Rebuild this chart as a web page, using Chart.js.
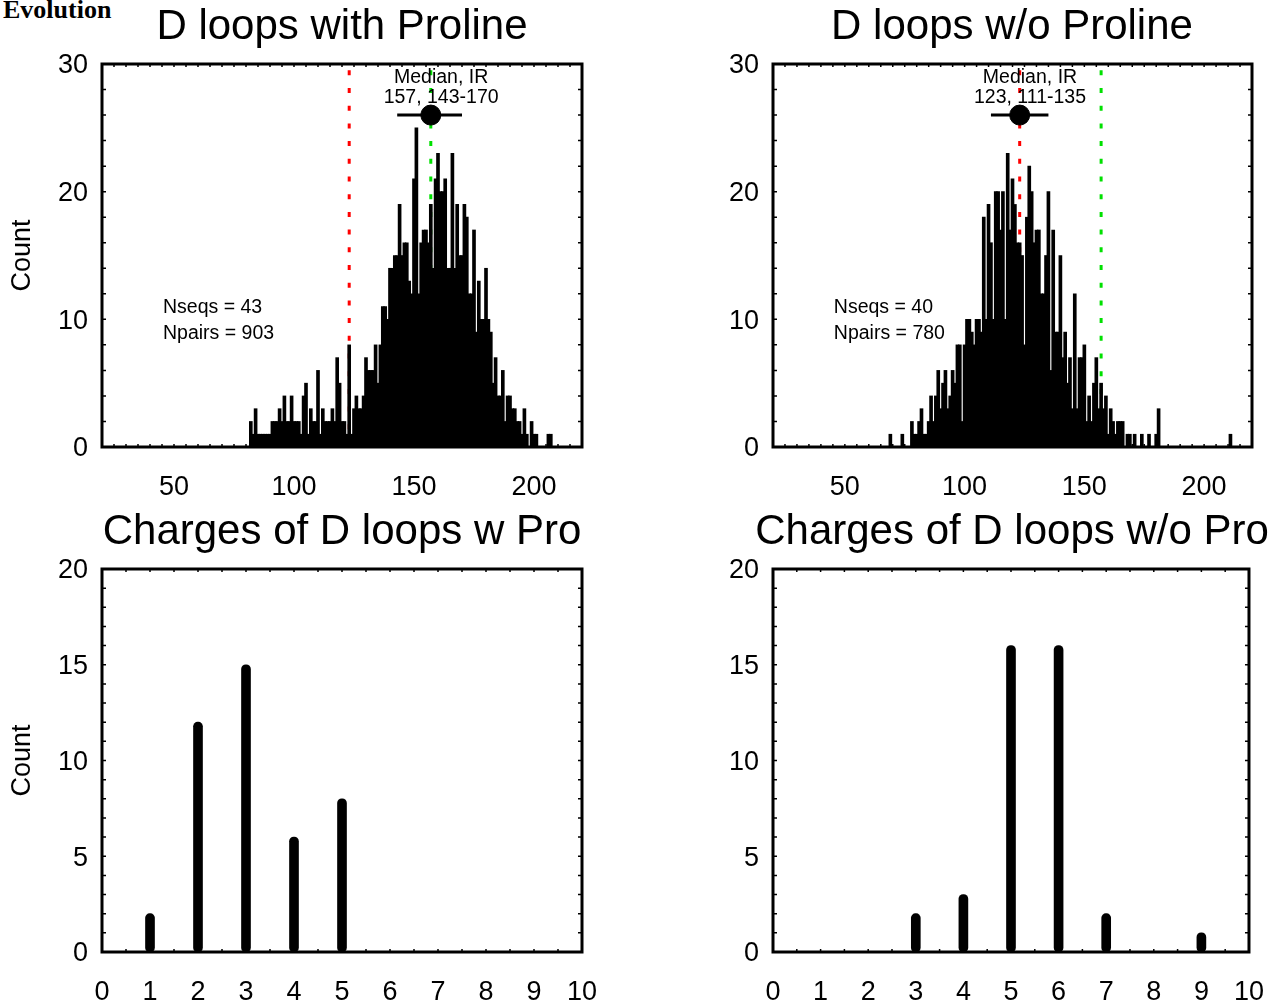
<!DOCTYPE html>
<html>
<head>
<meta charset="utf-8">
<script src="https://cdn.jsdelivr.net/npm/chart.js@4.4.1/dist/chart.umd.min.js"></script>
<style>
  body { margin: 0; background: #fff; width: 1288px; height: 1008px; position: relative; overflow: hidden; }
  .panel { position: absolute; }
  .ptitle { position: absolute; transform: translateX(-50%); white-space: nowrap; color: #000;
    font: 42px/42px "Liberation Sans", Arial, sans-serif; }
  #evo { position: absolute; left: 3px; top: -5px; font: bold 26px "Liberation Serif", "Times New Roman", serif; color: #000; }
</style>
</head>
<body>
<div id="evo">Evolution</div>
<div class="panel" style="left:0;top:0;width:644px;height:510px"><canvas id="lenWithPro"></canvas></div>
<div class="panel" style="left:644px;top:0;width:644px;height:510px"><canvas id="lenWithoutPro"></canvas></div>
<div class="panel" style="left:0;top:505px;width:644px;height:503px"><canvas id="chgWithPro"></canvas></div>
<div class="panel" style="left:644px;top:505px;width:644px;height:503px"><canvas id="chgWithoutPro"></canvas></div>
<div class="ptitle" id="t0" style="left:342px;top:4px"></div>
<div class="ptitle" id="t1" style="left:1012px;top:4px"></div>
<div class="ptitle" id="t2" style="left:342px;top:509px"></div>
<div class="ptitle" id="t3" style="left:1012px;top:509px"></div>
<script>
// === data ===
// loop length histograms: counts per length, first entry = start length
const withProStart = 82;
const withProCounts = [
  2, 1, 3, 1, 1, 1, 1, 1, 1, 2,
  2, 2, 3, 2, 4, 2, 2, 4, 2, 2,
  2, 1, 4, 5, 1, 3, 2, 2, 6, 1,
  3, 2, 2, 2, 3, 2, 7, 5, 2, 2,
  1, 8, 1, 3, 4, 3, 3, 4, 7, 6,
  6, 6, 8, 5, 8, 11, 11, 10, 14, 14,
  15, 15, 19, 15, 16, 16, 13, 12, 21, 25,
  12, 16, 17, 17, 16, 19, 14, 21, 23, 20,
  20, 21, 14, 14, 23, 14, 19, 15, 15, 19,
  18, 12, 12, 17, 9, 13, 10, 10, 14, 10,
  9, 5, 7, 4, 4, 6, 2, 4, 4, 3,
  3, 2, 2, 1, 3, 1, 0, 2, 1, 1,
  0, 0, 0, 0, 1, 1
];
const withoutProStart = 69;
const withoutProCounts = [
  1, 0, 0, 0, 0, 1, 0, 0, 0, 2,
  1, 1, 2, 3, 1, 1, 2, 4, 2, 4,
  6, 3, 5, 6, 3, 4, 6, 5, 8, 8,
  2, 8, 10, 10, 9, 8, 10, 10, 9, 18,
  10, 19, 16, 10, 20, 20, 17, 20, 10, 23,
  17, 21, 19, 16, 16, 15, 8, 18, 22, 20,
  16, 17, 17, 12, 12, 15, 20, 6, 17, 9,
  9, 15, 7, 9, 5, 7, 3, 12, 3, 7,
  7, 8, 2, 4, 2, 5, 7, 3, 5, 3,
  4, 1, 3, 2, 1, 2, 2, 2, 0, 1,
  1, 0, 1, 0, 0, 1, 0, 0, 1, 0,
  0, 1, 3, 0, 0, 0, 0, 0, 0, 0,
  0, 0, 0, 0, 0, 0, 0, 0, 0, 0,
  0, 0, 0, 0, 0, 0, 0, 0, 0, 0,
  0, 0, 1
];
const withProMedian = 157, withProIR = [143, 170];
const withoutProMedian = 123, withoutProIR = [111, 135];
const withProText = ['Median, IR', '157, 143-170', 'Nseqs = 43', 'Npairs = 903'];
const withoutProText = ['Median, IR', '123, 111-135', 'Nseqs = 40', 'Npairs = 780'];
const lenTicks = [50, 100, 150, 200];

// charges
const charges = [0, 1, 2, 3, 4, 5, 6, 7, 8, 9, 10];
const chargeWithPro = [0, 2, 12, 15, 6, 8, 0, 0, 0, 0, 0];
const chargeWithoutPro = [0, 0, 0, 2, 3, 16, 16, 2, 0, 1, 0];

const titles = ['D loops with Proline', 'D loops w/o Proline', 'Charges of D loops w Pro', 'Charges of D loops w/o Pro'];

// === defaults ===
const FONT = '"Liberation Sans", Arial, sans-serif';
Chart.defaults.font.family = FONT;
Chart.defaults.color = '#000';
Chart.defaults.animation = false;

// 枠と内向きの小目盛り
const framePlugin = {
  id: 'frame',
  afterDatasetsDraw(chart, args, opts) {
    const { ctx, chartArea: a } = chart;
    const x = chart.scales.x, y = chart.scales.y;
    ctx.save();
    ctx.strokeStyle = '#000';
    ctx.lineWidth = 1.5;
    ctx.beginPath();
    for (let v = y.min; v <= y.max + 1e-9; v += opts.yMinor) {
      const py = y.getPixelForValue(v);
      ctx.moveTo(a.left, py); ctx.lineTo(a.left + 4, py);
      ctx.moveTo(a.right, py); ctx.lineTo(a.right - 4, py);
    }
    for (let v = x.min; v <= x.max + 1e-9; v += opts.xMinor) {
      const px = x.getPixelForValue(v);
      ctx.moveTo(px, a.top); ctx.lineTo(px, a.top + 3);
      ctx.moveTo(px, a.bottom); ctx.lineTo(px, a.bottom - 3);
    }
    ctx.stroke();
    ctx.lineWidth = 3;
    ctx.strokeRect(a.left, a.top, a.right - a.left, a.bottom - a.top);
    ctx.restore();
  }
};

// テキスト注記（データ座標で配置）
const notesPlugin = {
  id: 'notes',
  afterDatasetsDraw(chart, args, opts) {
    if (!opts.items) return;
    const { ctx } = chart;
    const x = chart.scales.x, y = chart.scales.y;
    ctx.save();
    ctx.fillStyle = '#000';
    ctx.font = '19.5px ' + FONT;
    ctx.textBaseline = 'middle';
    opts.items.forEach(it => {
      ctx.textAlign = it.align || 'left';
      ctx.fillText(it.text, x.getPixelForValue(it.x), y.getPixelForValue(it.y));
    });
    ctx.restore();
  }
};
Chart.register(framePlugin, notesPlugin);

function histData(start, counts) {
  const pts = [];
  counts.forEach((c, i) => { if (c > 0) pts.push({ x: start + i, y: c }); });
  return pts;
}

// タイトルはHTML側（右下のタイトルがプロット幅より長いため）
titles.forEach((t, i) => { document.getElementById('t' + i).textContent = t; });

function lengthChart(id, start, counts, median, ir, text, showYTitle, yWidth, padRight) {
  const markerLevel = 26;
  new Chart(document.getElementById(id), {
    type: 'bar',
    data: {
      datasets: [
        { type: 'scatter', data: [{ x: median, y: markerLevel }], pointRadius: 10, pointHoverRadius: 10,
          backgroundColor: '#000', borderColor: '#000', order: 0 },
        { type: 'line', data: [{ x: ir[0], y: markerLevel }, { x: ir[1], y: markerLevel }],
          borderColor: '#000', borderWidth: 3, pointRadius: 0, order: 0 },
        { data: histData(start, counts), backgroundColor: '#000', barThickness: 3, order: 1 },
        { type: 'line', data: [{ x: withoutProMedian, y: 0 }, { x: withoutProMedian, y: 30 }],
          borderColor: '#ff0000', borderWidth: 3, borderDash: [5, 12.7], pointRadius: 0, order: 2 },
        { type: 'line', data: [{ x: withProMedian, y: 0 }, { x: withProMedian, y: 30 }],
          borderColor: '#00e000', borderWidth: 3, borderDash: [5, 12.7], pointRadius: 0, order: 2 }
      ]
    },
    options: {
      responsive: true, maintainAspectRatio: false,
      layout: { padding: { left: 0, right: padRight, top: 64, bottom: 0 } },
      plugins: {
        legend: { display: false }, tooltip: { enabled: false },
        frame: { yMinor: 2, xMinor: 5 },
        notes: { items: [
          { text: text[0], x: median + 4.3, y: 28.97, align: 'center' },
          { text: text[1], x: median + 4.3, y: 27.4, align: 'center' },
          { text: text[2], x: 45.4, y: 10.9, align: 'left' },
          { text: text[3], x: 45.4, y: 8.85, align: 'left' }
        ] }
      },
      scales: {
        x: { type: 'linear', min: 20, max: 220, offset: false,
          afterBuildTicks: (s) => { s.ticks = lenTicks.map(v => ({ value: v })); },
          afterFit: (s) => { s.height = 63; },
          grid: { display: false, drawTicks: false }, border: { display: false },
          ticks: { font: { size: 27 }, padding: 24, maxRotation: 0 } },
        y: { min: 0, max: 30,
          afterFit: (s) => { s.width = yWidth; },
          grid: { display: false, drawTicks: false }, border: { display: false },
          ticks: { stepSize: 10, font: { size: 27 }, padding: 14, labelOffset: 2 },
          title: { display: showYTitle, text: 'Count', font: { size: 27 }, padding: { top: 6, bottom: 0 } } }
      }
    }
  });
}

function chargeChart(id, values, showYTitle, yWidth, padRight) {
  const pts = [];
  charges.forEach((c, i) => { if (values[i] > 0) pts.push({ x: c, y: values[i] }); });
  new Chart(document.getElementById(id), {
    type: 'bar',
    data: { datasets: [{ data: pts, backgroundColor: '#000', barThickness: 9, borderRadius: 4.5, borderSkipped: false }] },
    options: {
      responsive: true, maintainAspectRatio: false,
      layout: { padding: { left: 0, right: padRight, top: 64, bottom: 0 } },
      plugins: {
        legend: { display: false }, tooltip: { enabled: false },
        frame: { yMinor: 1, xMinor: 0.5 }
      },
      scales: {
        x: { type: 'linear', min: 0, max: 10, offset: false,
          afterFit: (s) => { s.height = 56; },
          grid: { display: false, drawTicks: false }, border: { display: false },
          ticks: { stepSize: 1, font: { size: 27 }, padding: 24, maxRotation: 0 } },
        y: { min: 0, max: 20,
          afterFit: (s) => { s.width = yWidth; },
          grid: { display: false, drawTicks: false }, border: { display: false },
          ticks: { stepSize: 5, font: { size: 27 }, padding: 14, labelOffset: 2 },
          title: { display: showYTitle, text: 'Count', font: { size: 27 }, padding: { top: 6, bottom: 0 } } }
      }
    }
  });
}

lengthChart('lenWithPro', withProStart, withProCounts, withProMedian, withProIR, withProText, true, 102, 62);
lengthChart('lenWithoutPro', withoutProStart, withoutProCounts, withoutProMedian, withoutProIR, withoutProText, false, 129, 36);
chargeChart('chgWithPro', chargeWithPro, true, 102, 62);
chargeChart('chgWithoutPro', chargeWithoutPro, false, 129, 36);
</script>
</body>
</html>
